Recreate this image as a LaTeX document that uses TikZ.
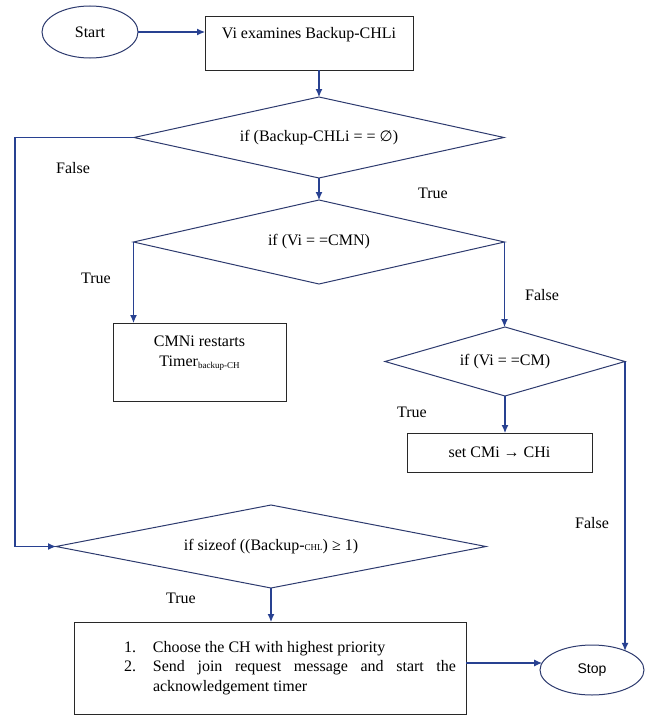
\documentclass[tikz,border=0pt]{standalone}
\usepackage{fontspec}
\setmainfont{Liberation Serif}
\newfontfamily\tms{Liberation Serif}
\newfontfamily\arialfont{Liberation Sans}
\newfontfamily\symbfont{DejaVu Sans}
\usetikzlibrary{shapes.geometric,arrows.meta}
\definecolor{navy}{RGB}{40,65,145}
\definecolor{edgec}{RGB}{45,58,110}
\definecolor{boxc}{RGB}{40,40,40}
\begin{document}
\begin{tikzpicture}[x=1pt,y=-1pt,
  font=\tms\fontsize{16}{19.5}\selectfont,
  conn/.style={draw=navy, line width=1.1pt},
  arr/.style={conn,-{Latex[length=8pt,width=7pt]}},
  dia/.style={diamond, draw=edgec, line width=1pt, aspect=4, inner sep=0pt, outer sep=0pt},
  rbox/.style={rectangle, draw=boxc, line width=1pt, inner sep=0pt, outer sep=0pt},
  term/.style={ellipse, draw=edgec, line width=1pt, inner sep=0pt, outer sep=0pt},
  lab/.style={inner sep=0pt}]
\useasboundingbox (0,0) rectangle (651,717);

% nodes
\node[term, minimum width=96pt, minimum height=52pt] (start) at (90,32) {Start};
\node[rbox, minimum width=208pt, minimum height=53pt,
      label={[lab,yshift=8.5pt]center:Vi examines Backup-CHLi}] (b1) at (309,43.5) {};
\node[dia, minimum width=370pt, minimum height=81pt] (d1) at (319,137.5) {if (Backup-CHLi = = {\symbfont\fontsize{15}{18}\selectfont ∅})};
\node[dia, minimum width=371pt, minimum height=84pt] (d2) at (319,242) {if (Vi = =CMN)};
\node[rbox, minimum width=173pt, minimum height=78pt,
      label={[lab,align=center,yshift=9pt]center:CMNi restarts\\Timer{\fontsize{9}{10}\selectfont\raisebox{-2pt}{backup-CH}}}] (cmn) at (199.5,362) {};
\node[dia, minimum width=240pt, minimum height=69pt] (d3) at (505,361.5) {if (Vi = =CM)};
\node[rbox, minimum width=185pt, minimum height=39pt] (set) at (499.5,452.5) {set CMi → CHi};
\node[dia, minimum width=430pt, minimum height=83pt] (d4) at (271,546.5) {if sizeof ((Backup-{\fontsize{9}{10}\selectfont CHL}) ≥ 1)};
\node[rbox, minimum width=392pt, minimum height=92pt, text width=372pt, align=justify] (big) at (270,668)
  {\leftskip=40pt \makebox[29pt][l]{1.}Choose the CH with highest priority\par
   \hangindent=29pt \makebox[29pt][l]{2.}Send join request message and start the\linebreak acknowledgement timer\par};
\node[term, minimum width=104pt, minimum height=50pt, font=\arialfont\fontsize{14}{16}\selectfont] (stop) at (592,670) {Stop};

% labels
\node[lab] (lf1) at (73,168) {False};
\node[lab] (lt1) at (433,193) {True};
\node[lab] (lt2) at (96,278) {True};
\node[lab] (lf2) at (542,295) {False};
\node[lab] (lt3) at (412,412) {True};
\node[lab] (lf3) at (592,523) {False};
\node[lab] (lt4) at (181,598) {True};

% connectors
\coordinate (fl) at (15,0);
\draw[arr] (start.east) -- (start.east -| b1.west);
\draw[arr] (b1.south -| d1.north) -- (d1.north);
\draw[arr] (d1.south) -- (d2.north);
\draw[arr] (d1.west) -- (d1.west -| fl) |- (d4.west);
\draw[arr] (d2.west) -- (d2.west |- cmn.north);
\draw[arr] (d2.east) -- (d2.east |- d3.north);
\draw[arr] (d3.south) -- (d3.south |- set.north);
\draw[arr] (d3.east) -- (d3.east |- stop.30);
\draw[arr] (d4.south) -- (d4.south |- big.north);
\draw[arr] (big.east |- stop.172) -- (stop.172);
\end{tikzpicture}
\end{document}
